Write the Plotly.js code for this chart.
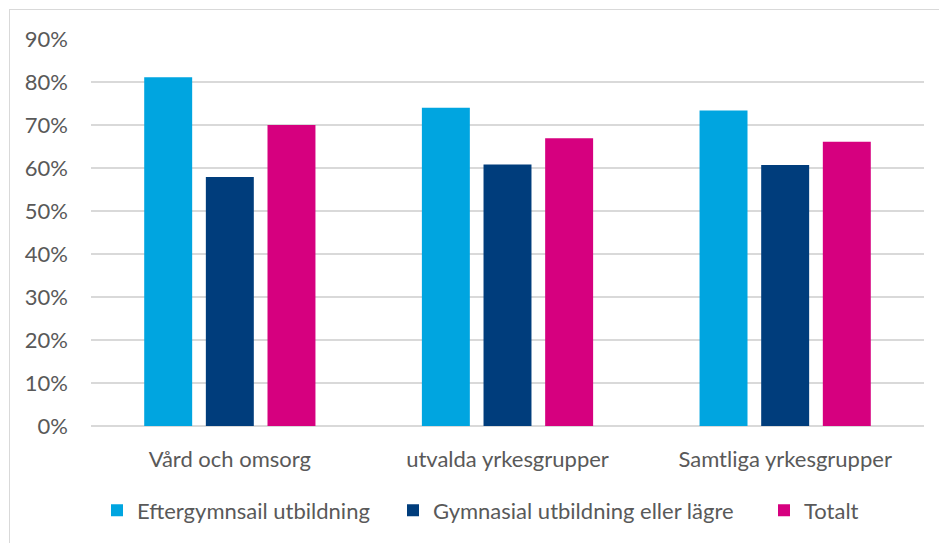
<!DOCTYPE html>
<html>
<head>
<meta charset="utf-8">
<script src="https://cdn.plot.ly/plotly-3.0.1.min.js"></script>
<style>
html,body{margin:0;padding:0;background:#fff;}
#wrap{position:relative;width:939px;height:543px;overflow:hidden;}
#chart{width:939px;height:543px;}
#frame{position:absolute;left:9px;top:9px;width:1200px;height:1200px;border:1.5px solid #d9d9d9;pointer-events:none;box-sizing:border-box;}
</style>
</head>
<body>
<div id="wrap"><div id="chart"></div><div id="frame"></div></div>
<script>
var categories = ["Vård och omsorg", "utvalda yrkesgrupper", "Samtliga yrkesgrupper"];
var seriesNames = ["Eftergymnsail utbildning", "Gymnasial utbildning eller lägre", "Totalt"];
var eftergymnasial = [0.811, 0.740, 0.734];
var gymnasial = [0.579, 0.608, 0.607];
var totalt = [0.700, 0.669, 0.661];
var yTickVals = [0, 0.1, 0.2, 0.3, 0.4, 0.5, 0.6, 0.7, 0.8, 0.9];
var yTickText = ["0%", "10%", "20%", "30%", "40%", "50%", "60%", "70%", "80%", "90%"];

var colors = ["#00A5E0", "#003D7C", "#D6007F"];
var values = [eftergymnasial, gymnasial, totalt];
var legendIds = ['legend', 'legend2', 'legend3'];
var data = values.map(function(v, i){
  return {type:'bar', name:seriesNames[i], x:categories, y:v, legend:legendIds[i],
    marker:{color:colors[i]}, hoverinfo:'none'};
});
var font = {family:'Lato, "Open Sans", sans-serif', size:22, color:'#595959'};
var plotL = 91, plotW = 833;
function legAt(px){
  return {orientation:'h', x:(px - plotL)/plotW, xanchor:'left', y:-0.2185, yanchor:'middle',
    font:font, bgcolor:'rgba(0,0,0,0)', borderwidth:0};
}
var layout = {
  width:939, height:543,
  margin:{l:91, r:15, t:39, b:115},
  paper_bgcolor:'rgba(0,0,0,0)', plot_bgcolor:'#fff',
  font:font,
  bargap:0.334, bargroupgap:0.222, barmode:'group',
  xaxis:{showgrid:false, zeroline:false, showline:false, ticks:'', ticklabelstandoff:18, tickfont:font, fixedrange:true},
  yaxis:{range:[0,0.9], tickvals:yTickVals, ticktext:yTickText, showgrid:true, gridcolor:'#d9d9d9', gridwidth:1.5,
    zeroline:true, zerolinecolor:'#d9d9d9', zerolinewidth:1.5, showline:false, ticks:'', ticklabelstandoff:22, tickfont:font, fixedrange:true},
  showlegend:true,
  legend:legAt(97),
  legend2:legAt(393),
  legend3:legAt(764)
};
Plotly.newPlot('chart', data, layout, {staticPlot:true, displayModeBar:false});
</script>
</body>
</html>
